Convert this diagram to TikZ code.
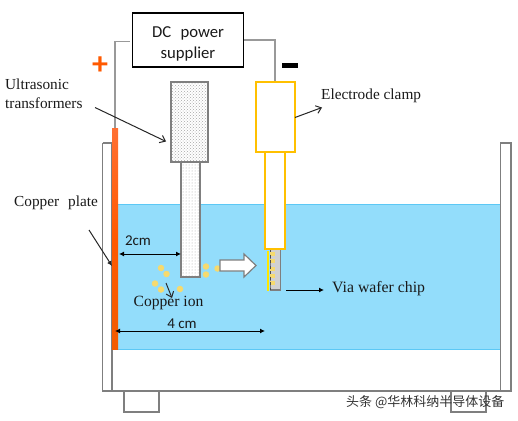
\documentclass[tikz,border=0pt]{standalone}
\usepackage{fontspec}
\setmainfont{Liberation Serif}
\newfontfamily\calibri{Carlito}
\newfontfamily\cjk{Noto Sans CJK SC}
\usetikzlibrary{arrows.meta,patterns}
\definecolor{water}{HTML}{93DDFB}
\definecolor{waterb}{HTML}{5CC8F5}
\definecolor{wall}{HTML}{7F7F7F}
\definecolor{clamp}{HTML}{FFC000}
\definecolor{ion}{HTML}{F6DA6E}
\tikzset{
  wallbox/.style={draw=wall,line width=1.3pt,fill=white},
  wire/.style={draw=black!40,line width=1.3pt},
  dotted box/.style={draw=wall,line width=1.3pt,pattern=dots,pattern color=black!35},
  dense box/.style={draw=wall,line width=1.3pt,pattern=crosshatch dots,pattern color=black!35},
  clampbox/.style={draw=clamp,line width=1.2pt,fill=white},
  ionp/.style={circle,fill=ion,inner sep=0pt,minimum size=6.5pt},
  lab/.style={font=\fontsize{15.3}{19}\selectfont,inner sep=0pt,align=center,text=black!90},
  sans/.style={font=\calibri\fontsize{16.7}{21}\selectfont,inner sep=0pt,align=center,text=black!90},
  dimlab/.style={font=\calibri\fontsize{15}{18}\selectfont,inner sep=0pt,text=black!90},
  arr/.style={draw=black!85,line width=1pt,-{Straight Barb[length=5pt,width=8pt]}},
  dim/.style={draw=black,line width=1pt,{Latex[length=5pt,width=5pt]}-{Latex[length=5pt,width=5pt]}}
}
\begin{document}
\begin{tikzpicture}[x=1pt,y=-1pt]
\useasboundingbox (0,0) rectangle (518,420);
% feet
\draw[wallbox] (124,391) rectangle (159,412);
\draw[wallbox] (451,391) rectangle (486,412);
% tank
\draw[wallbox] (102.5,143) -- (102.5,391) -- (511,391) -- (511,143) -- (500.5,143) -- (500.5,391) (112,143) -- (112,391);
\draw[wall,line width=1.3pt] (102.5,143) -- (112,143);
% water
\fill[water] (118,204.5) rectangle (500,349);
\draw[waterb,line width=1pt] (118,349) -- (500,349) (112,204.5) -- (500,204.5);
% plate
\shade[top color=orange!60!red!80!white,bottom color=orange!75!red!95!black,middle color=orange!70!red] (112,128) rectangle (118,349);
% wires
\node[draw=black,line width=1.5pt,minimum width=111pt,minimum height=54pt,inner sep=0pt,sans] (psu) at (188,40) {\rule{0pt}{19pt}DC\,\, power\\supplier};
\coordinate (pl) at (115,128);
\coordinate (cl) at (275,82);
\draw[wire] (pl) -- (115,41.5) -- (130,41.5);
\draw[wire] (psu.east) -- (275,40) -- (cl);
% transducer
\fill[white] (181,162) rectangle (200,277);
\draw[dotted box] (181,162) rectangle (200,277);
\fill[white] (171,82) rectangle (208,162);
\draw[dense box] (171,82) rectangle (208,162);
% chip
\draw[draw=wall,line width=1.2pt,fill=black!18] (270.5,249) rectangle (280.5,290);
\foreach \y in {252,259,267,274,281}{\fill[ion] (270,\y) rectangle (275,\y+3.5);}
\draw[black!70,line width=.8pt,dash pattern=on 3pt off 2.5pt] (270.5,249) -- (270.5,290);
\draw[yellow!90!orange,line width=1.6pt] (268,251) -- (268,291);
% clamp
\draw[clampbox] (265,152) rectangle (285,249);
\draw[clampbox] (256,82) rectangle (295,152);
% ions
\foreach \x/\y in {161/268,166.5/274,155/283.5,161/289.5,180/289,206/266.5,206/274.5,217.5/268.5}{\node[ionp] at (\x,\y) {};}
% big arrow
\draw[draw=wall,line width=1.2pt,fill=white] (220,260) -- (244,260) -- (244,254) -- (256,265.5) -- (244,277) -- (244,271) -- (220,271) -- cycle;
% labels
\node[lab,align=left,anchor=north west] (ut) at (5,79) {Ultrasonic\\transformers};
\node[lab,anchor=west] (cp) at (14,203) {Copper\,\, plate};
\node[lab,anchor=west] (ec) at (321,96) {Electrode clamp};
\node[lab,font=\fontsize{15.8}{16}\selectfont,anchor=west] (vw) at (332,289) {Via wafer chip};
\node[lab,font=\fontsize{15.6}{16}\selectfont] (ci) at (168.5,303) {Copper ion};
\node[dimlab] (d2) at (138,240.5) {2cm};
\node[dimlab] (d4) at (182,323.5) {4 cm};
\node[font=\calibri\bfseries\fontsize{32}{32}\selectfont,text=orange!70!red,inner sep=0pt] (plus) at (100,66) {+};
\fill[black] (282,63) rectangle (298,68);
% pointers
\coordinate (a1) at (95,107.5);\coordinate (a2) at (166,141.5);
\draw[arr] (a1) -- (a2);
\coordinate (b1) at (295,117.5);\coordinate (b2) at (322,107.5);
\draw[arr] (b1) -- (b2);
\coordinate (c1) at (89,230);\coordinate (c2) at (112,266);
\draw[arr,-{Latex[length=5pt,width=5pt]}] (c1) -- (c2);
\coordinate (e1) at (166,283);\coordinate (e2) at (172,298);
\draw[arr] (e1) -- (e2);
\coordinate (f1) at (286,290);\coordinate (f2) at (324,290);
\draw[draw=black,line width=1pt,-{Latex[length=5pt,width=5pt]}] (f1) -- (f2);
\coordinate (g1) at (119,254);\coordinate (g2) at (181,254);
\draw[dim] (g1) -- (g2);
\coordinate (h1) at (115,331);\coordinate (h2) at (265,331);
\draw[dim] (h1) -- (h2);
% watermark
\node[font=\cjk\fontsize{13}{14}\selectfont,text=black!80,inner sep=0pt,anchor=west] (wm) at (346,402) {头条 @华林科纳半导体设备};
\end{tikzpicture}
\end{document}
